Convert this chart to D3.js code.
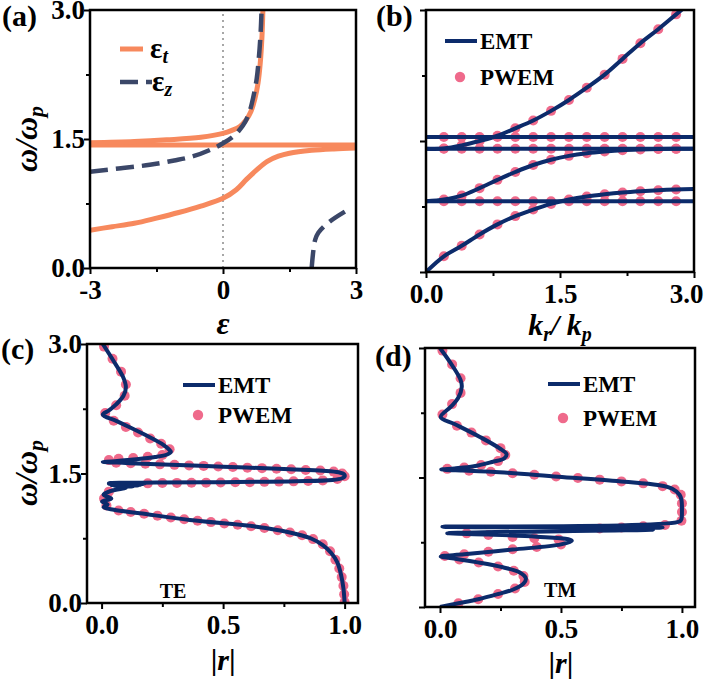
<!DOCTYPE html>
<html>
<head>
<meta charset="utf-8">
<script src="https://cdn.jsdelivr.net/npm/d3@7"></script>
<style>
  body { margin: 0; background: #fff; }
  svg { display: block; }
</style>
</head>
<body>
<svg id="fig" width="709" height="680"></svg>
<script>
// ---------- data ----------
// (a) dielectric functions, points are [eps, w/wp]
const epsTLower = [[-3, 0.44], [-2.5, 0.48], [-2, 0.52], [-1.5, 0.58], [-1, 0.645], [-0.5, 0.72],
    [0, 0.81], [0.3, 0.91], [0.53, 1.03], [0.76, 1.14], [1.0, 1.24], [1.25, 1.3], [1.5, 1.335],
    [2.0, 1.368], [2.5, 1.385], [3, 1.395]];
const epsTFlat = [[-3, 1.43], [3, 1.43]];
const epsTUpper = [[-3, 1.455], [-2, 1.47], [-1.27, 1.49], [-0.5, 1.52], [0, 1.565], [0.2, 1.6],
    [0.38, 1.645], [0.52, 1.72], [0.63, 1.82], [0.72, 1.97], [0.79, 2.15], [0.84, 2.38], [0.88, 2.7], [0.9, 3.0]];
const epsZLeft = [[-3, 1.12], [-2.3, 1.16], [-1.65, 1.2], [-1.1, 1.25], [-0.67, 1.3], [-0.22, 1.39],
    [0, 1.45], [0.23, 1.53], [0.38, 1.61], [0.5, 1.7], [0.6, 1.82], [0.68, 1.98], [0.76, 2.2],
    [0.81, 2.45], [0.85, 2.75], [0.87, 3.0]];
const epsZRight = [[2.0, 0.0], [2.04, 0.21], [2.08, 0.33], [2.15, 0.41], [2.41, 0.54], [2.83, 0.68]];

// (b) band structure, w/wp at each k_r/k_p
const kGrid = [0, 0.2, 0.4, 0.6, 0.8, 1.0, 1.2, 1.4, 1.6, 1.8, 2.0, 2.2, 2.4, 2.6, 2.8, 3.0];
const bandLow = [0, 0.18, 0.30, 0.43, 0.545, 0.64, 0.715, 0.78, 0.83, 0.865, 0.89, 0.91, 0.925, 0.937, 0.945, 0.95];
const bandMid = [0.81, 0.83, 0.875, 0.96, 1.055, 1.145, 1.225, 1.285, 1.33, 1.36, 1.38, 1.395, 1.403, 1.408, 1.41, 1.412];
const bandUp = [1.41, 1.415, 1.45, 1.50, 1.56, 1.645, 1.735, 1.845, 1.97, 2.11, 2.26, 2.44, 2.62, 2.78, 2.95, 3.12];
const flatLevels = [0.81, 1.412, 1.545];

// (c) TE reflectance, points are [|r|, w/wp]
const teEMT = [[0.005, 3.0], [0.05, 2.8], [0.088, 2.62], [0.10, 2.5], [0.09, 2.4], [0.06, 2.3], [0.03, 2.23],
    [0.005, 2.18], [0.06, 2.11], [0.12, 2.03], [0.185, 1.94], [0.25, 1.84], [0.28, 1.77], [0.285, 1.75],
    [0.27, 1.72], [0.22, 1.69], [0.12, 1.66], [0.04, 1.64], [0.005, 1.635], [0.1, 1.622], [0.226, 1.607],
    [0.5, 1.579], [0.774, 1.549], [0.91, 1.533], [0.975, 1.515], [0.998, 1.49], [1.0, 1.465], [0.99, 1.445],
    [0.95, 1.425], [0.8, 1.41], [0.5, 1.4], [0.226, 1.395], [0.03, 1.39], [0.18, 1.386], [0.03, 1.382],
    [0.17, 1.378], [0.04, 1.374], [0.16, 1.37], [0.04, 1.366], [0.15, 1.362], [0.05, 1.357], [0.13, 1.352],
    [0.06, 1.345], [0.1, 1.335], [0.04, 1.30], [0.008, 1.255],
    [0.04, 1.21], [0.002, 1.175], [0.025, 1.14], [0.008, 1.11], [0.05, 1.08], [0.157, 1.04], [0.363, 0.961],
    [0.637, 0.884], [0.77, 0.82], [0.86, 0.75], [0.91, 0.67], [0.945, 0.58], [0.97, 0.47], [0.985, 0.33],
    [0.995, 0.17], [1.0, 0.0]];
const tePWEM = [[0.01, 2.97], [0.045, 2.83], [0.08, 2.68], [0.10, 2.53], [0.095, 2.40], [0.06, 2.29], [0.015, 2.20],
    [0.05, 2.11], [0.10, 2.04], [0.15, 1.975], [0.20, 1.905], [0.245, 1.845], [0.28, 1.78],
    [0.25, 1.715], [0.19, 1.695], [0.13, 1.68], [0.07, 1.67], [0.03, 1.655],
    [0.06, 1.625], [0.12, 1.618], [0.18, 1.612], [0.24, 1.606], [0.30, 1.600], [0.36, 1.594], [0.42, 1.588],
    [0.48, 1.581], [0.54, 1.575], [0.60, 1.568], [0.66, 1.562], [0.72, 1.555], [0.78, 1.549], [0.84, 1.541],
    [0.90, 1.534], [0.955, 1.522], [0.99, 1.50], [1.0, 1.468],
    [0.97, 1.437], [0.91, 1.42], [0.85, 1.413], [0.79, 1.409], [0.73, 1.406], [0.67, 1.403], [0.61, 1.40],
    [0.55, 1.398], [0.49, 1.396], [0.43, 1.394], [0.37, 1.393], [0.31, 1.391], [0.25, 1.389], [0.19, 1.386],
    [0.03, 1.29], [0.01, 1.21], [0.02, 1.13],
    [0.07, 1.072], [0.12, 1.054], [0.175, 1.033], [0.23, 1.012], [0.285, 0.991], [0.34, 0.97], [0.395, 0.952],
    [0.45, 0.937], [0.505, 0.921], [0.56, 0.906], [0.615, 0.89], [0.67, 0.868], [0.725, 0.842], [0.775, 0.816],
    [0.825, 0.785], [0.87, 0.74], [0.91, 0.68], [0.94, 0.6], [0.962, 0.5], [0.978, 0.4], [0.988, 0.3],
    [0.995, 0.2], [0.998, 0.1], [1.0, 0.01]];

// (d) TM reflectance, points are [|r|, w/wp]
const tmEMT = [[0.0, 3.0], [0.05, 2.8], [0.085, 2.63], [0.09, 2.55], [0.075, 2.42], [0.045, 2.32], [0.003, 2.2],
    [0.06, 2.12], [0.165, 1.97], [0.245, 1.84], [0.275, 1.77], [0.265, 1.72], [0.215, 1.68], [0.14, 1.63],
    [0.06, 1.605], [0.005, 1.593], [0.1, 1.58], [0.213, 1.567], [0.488, 1.51], [0.763, 1.452], [0.9, 1.413],
    [0.96, 1.37], [0.99, 1.30], [0.998, 1.24], [1.0, 1.1], [0.998, 1.02], [0.99, 0.99], [0.01, 0.93],
    [0.92, 0.92], [0.6, 0.905], [0.88, 0.895], [0.03, 0.855], [0.2, 0.84], [0.4, 0.815], [0.53, 0.785],
    [0.545, 0.765], [0.5, 0.725], [0.3, 0.665], [0.1, 0.61], [0.003, 0.585], [0.05, 0.565], [0.15, 0.52],
    [0.26, 0.46], [0.33, 0.40], [0.355, 0.33], [0.345, 0.27], [0.30, 0.2], [0.24, 0.15], [0.158, 0.089],
    [0.076, 0.043], [0.0, 0.0]];
const tmPWEM = [[0.01, 2.97], [0.05, 2.81], [0.085, 2.65], [0.085, 2.48], [0.05, 2.35], [0.01, 2.23],
    [0.07, 2.10], [0.13, 2.02], [0.19, 1.93], [0.25, 1.84], [0.27, 1.76],
    [0.24, 1.69], [0.17, 1.645], [0.1, 1.615], [0.03, 1.60],
    [0.12, 1.578], [0.21, 1.567], [0.30, 1.55], [0.39, 1.531], [0.48, 1.512], [0.57, 1.494], [0.66, 1.475],
    [0.75, 1.455], [0.84, 1.432], [0.92, 1.40], [0.97, 1.36], [0.995, 1.30], [1.0, 1.2], [1.0, 1.1], [0.998, 1.0],
    [0.93, 0.95], [0.84, 0.935], [0.75, 0.92], [0.66, 0.91],
    [0.11, 0.853], [0.2, 0.834], [0.3, 0.81], [0.39, 0.796], [0.49, 0.783],
    [0.5, 0.725], [0.4, 0.695], [0.3, 0.668], [0.2, 0.64], [0.1, 0.612], [0.02, 0.59],
    [0.08, 0.55], [0.16, 0.515], [0.24, 0.47], [0.305, 0.42], [0.345, 0.36], [0.35, 0.29], [0.31, 0.215],
    [0.24, 0.15], [0.158, 0.089], [0.076, 0.043]];

// axis ticks
const wMajor = [0, 1.5, 3];
const wMinor = [0.75, 2.25];
const epsMajor = [-3, 0, 3];
const epsMinor = [-1.5, 1.5];
const kMajor = [0, 1.5, 3];
const kMinor = [0.75, 2.25];
const rMajor = [0, 0.5, 1];
const rMinor = [0.25, 0.75];


// ---------- drawing ----------
const svg = d3.select("#fig");
const serif = '"Liberation Serif", "Times New Roman", serif';
const navy = "#0c2b6b";
const pink = "#ef6a8b";
const orange = "#f7895d";
const slate = "#3b4768";
const fmt1 = d3.format(".1f");

function makePanel(id, box, xDomain, yDomain) {
    const x = d3.scaleLinear().domain(xDomain).range([box.x0, box.x1]);
    const y = d3.scaleLinear().domain(yDomain).range([box.y1, box.y0]);
    svg.append("clipPath").attr("id", "clip-" + id)
        .append("rect")
        .attr("x", box.x0).attr("y", box.y0)
        .attr("width", box.x1 - box.x0).attr("height", box.y1 - box.y0);
    const plot = svg.append("g").attr("clip-path", `url(#clip-${id})`);
    return { x, y, plot, box };
}

function styleAxis(sel) {
    sel.attr("font-family", serif).attr("font-size", 27).attr("font-weight", "bold");
    sel.select(".domain").remove();
    sel.selectAll(".tick line").attr("stroke-width", 2);
}

function drawAxes(p, o) {
    const { box } = p;
    const xAxis = svg.append("g").attr("transform", `translate(0,${box.y1})`)
        .call(d3.axisBottom(p.x).tickValues(o.xMajor).tickSize(6).tickPadding(6).tickFormat(o.xFmt))
        .call(styleAxis);
    svg.append("g").attr("transform", `translate(0,${box.y1})`)
        .call(d3.axisBottom(p.x).tickValues(o.xMinor).tickSize(4).tickFormat(""))
        .call(styleAxis);
    svg.append("g").attr("transform", `translate(${box.x0},0)`)
        .call(d3.axisLeft(p.y).tickValues(wMajor).tickSize(6).tickPadding(-1).tickFormat(o.yFmt))
        .call(styleAxis);
    svg.append("g").attr("transform", `translate(${box.x0},0)`)
        .call(d3.axisLeft(p.y).tickValues(wMinor).tickSize(4).tickFormat(""))
        .call(styleAxis);

    svg.append("rect")
        .attr("x", box.x0).attr("y", box.y0)
        .attr("width", box.x1 - box.x0).attr("height", box.y1 - box.y0)
        .attr("fill", "none").attr("stroke", "#000").attr("stroke-width", 2.5);
    return xAxis;
}

function lineGen(p) {
    return d3.line()
        .x(d => p.x(d[0]))
        .y(d => p.y(d[1]))
        .curve(d3.curveCatmullRom.alpha(0.5));
}

function label(x, y, size, parts, opts = {}) {
    const t = svg.append("text")
        .attr("x", x).attr("y", y)
        .attr("font-family", serif).attr("font-weight", "bold")
        .attr("font-size", size)
        .attr("text-anchor", opts.anchor || "start");
    if (opts.transform) t.attr("transform", opts.transform).attr("x", 0).attr("y", 0);
    for (const part of parts) {
        const s = t.append("tspan").text(part.text);
        if (part.italic) s.attr("font-style", "italic");
        if (part.size) s.attr("font-size", part.size);
        if (part.dy) s.attr("dy", part.dy);
    }
    return t;
}

function wLabel(cx, cy) {
    label(0, 0, 32, [
        { text: "ω/ω", italic: true },
        { text: "p", italic: true, size: 22, dy: 6 }
    ], { anchor: "middle", transform: `translate(${cx},${cy}) rotate(-90)` });
}

function rLabel(cx, by) {
    label(cx, by, 30, [
        { text: "|" },
        { text: "r", italic: true },
        { text: "|" }
    ], { anchor: "middle" });
}

function emtLegend(x, yLine, yDot) {
    svg.append("line")
        .attr("x1", x).attr("x2", x + 32).attr("y1", yLine).attr("y2", yLine)
        .attr("stroke", navy).attr("stroke-width", 4);
    label(x + 35, yLine + 8, 23, [{ text: "EMT" }]);
    svg.append("circle").attr("cx", x + 15).attr("cy", yDot).attr("r", 5.2).attr("fill", pink);
    label(x + 35, yDot + 8, 23, [{ text: "PWEM" }]);
}


// ---- panel (a) ----
const pa = makePanel("a", { x0: 90, x1: 356, y0: 10, y1: 268 }, [-3, 3], [0, 3]);
const lineA = lineGen(pa);

pa.plot.append("line")
    .attr("x1", pa.x(0)).attr("x2", pa.x(0))
    .attr("y1", pa.y(0)).attr("y2", pa.y(3))
    .attr("stroke", "#8a8a8a").attr("stroke-width", 1.5).attr("stroke-dasharray", "2,4");

pa.plot.selectAll("path.epst")
    .data([epsTLower, epsTFlat, epsTUpper])
    .join("path")
    .attr("class", "epst")
    .attr("d", lineA)
    .attr("fill", "none").attr("stroke", orange).attr("stroke-width", 5);

pa.plot.selectAll("path.epsz")
    .data([epsZLeft, epsZRight])
    .join("path")
    .attr("class", "epsz")
    .attr("d", lineA)
    .attr("fill", "none").attr("stroke", slate).attr("stroke-width", 4.5)
    .attr("stroke-dasharray", "18,8");

drawAxes(pa, { xMajor: epsMajor, xMinor: epsMinor, xFmt: d => String(d), yFmt: fmt1 });

// legend (a)
svg.append("line").attr("x1", 120).attr("x2", 143).attr("y1", 49).attr("y2", 49)
    .attr("stroke", orange).attr("stroke-width", 5);
label(150, 58, 29, [{ text: "ε" }, { text: "t", italic: true, size: 20, dy: 5 }]);
svg.append("line").attr("x1", 120).attr("x2", 152).attr("y1", 82).attr("y2", 82)
    .attr("stroke", slate).attr("stroke-width", 4.5).attr("stroke-dasharray", "18,8");
label(152, 91, 29, [{ text: "ε" }, { text: "z", italic: true, size: 20, dy: 5 }]);

label(2, 26, 30, [{ text: "(a)" }]);
wLabel(37, 139);
label(pa.x(0), 334, 32, [{ text: "ε", italic: true }], { anchor: "middle" });


// ---- panel (b) ----
const pb = makePanel("b", { x0: 426, x1: 694, y0: 10, y1: 272 }, [0, 3], [0, 3]);
const lineB = lineGen(pb);

const bands = [bandLow, bandMid, bandUp].map(v => kGrid.map((k, i) => [k, v[i]]))
    .concat(flatLevels.map(w => kGrid.map(k => [k, w])));
const bandDots = bands.flatMap(b => b.slice(1, -1).filter(d => d[1] <= 3));

pb.plot.selectAll("circle")
    .data(bandDots)
    .join("circle")
    .attr("cx", d => pb.x(d[0])).attr("cy", d => pb.y(d[1]))
    .attr("r", 5).attr("fill", pink);

pb.plot.selectAll("path")
    .data(bands)
    .join("path")
    .attr("d", lineB)
    .attr("fill", "none").attr("stroke", navy).attr("stroke-width", 4);

const bAxis = drawAxes(pb, { xMajor: kMajor, xMinor: kMinor, xFmt: fmt1, yFmt: () => "" });
bAxis.selectAll(".tick text").filter(d => d === 3).attr("dx", -8);
emtLegend(445, 41, 77);
label(376, 26, 30, [{ text: "(b)" }]);
label(pb.x(1.5), 335, 30, [
    { text: "k", italic: true },
    { text: "r", italic: true, size: 20, dy: 6 },
    { text: "/ k", italic: true, dy: -6 },
    { text: "p", italic: true, size: 20, dy: 6 }
], { anchor: "middle" });


// ---- panel (c) ----
const pc = makePanel("c", { x0: 87, x1: 358, y0: 344, y1: 603 }, [-0.06, 1.055], [0, 3]);

pc.plot.selectAll("circle")
    .data(tePWEM)
    .join("circle")
    .attr("cx", d => pc.x(d[0])).attr("cy", d => pc.y(d[1]))
    .attr("r", 5).attr("fill", pink);

pc.plot.append("path")
    .datum(teEMT)
    .attr("d", lineGen(pc))
    .attr("fill", "none").attr("stroke", navy).attr("stroke-width", 4);

drawAxes(pc, { xMajor: rMajor, xMinor: rMinor, xFmt: fmt1, yFmt: fmt1 });
emtLegend(183, 385, 415);
label(173, 598, 20, [{ text: "TE" }], { anchor: "middle" });
label(1, 359, 30, [{ text: "(c)" }]);
wLabel(37, 473);
rLabel(pc.x(0.5), 670);


// ---- panel (d) ----
const pd = makePanel("d", { x0: 425, x1: 695, y0: 348, y1: 607 }, [-0.062, 1.054], [0, 3]);

pd.plot.selectAll("circle")
    .data(tmPWEM)
    .join("circle")
    .attr("cx", d => pd.x(d[0])).attr("cy", d => pd.y(d[1]))
    .attr("r", 5).attr("fill", pink);

pd.plot.append("path")
    .datum(tmEMT)
    .attr("d", lineGen(pd))
    .attr("fill", "none").attr("stroke", navy).attr("stroke-width", 4);

drawAxes(pd, { xMajor: rMajor, xMinor: rMinor, xFmt: fmt1, yFmt: () => "" });
emtLegend(548, 384, 418);
label(560, 597, 20, [{ text: "TM" }], { anchor: "middle" });
label(375, 366, 30, [{ text: "(d)" }]);
rLabel(pd.x(0.5), 673);
</script>
</body>
</html>
